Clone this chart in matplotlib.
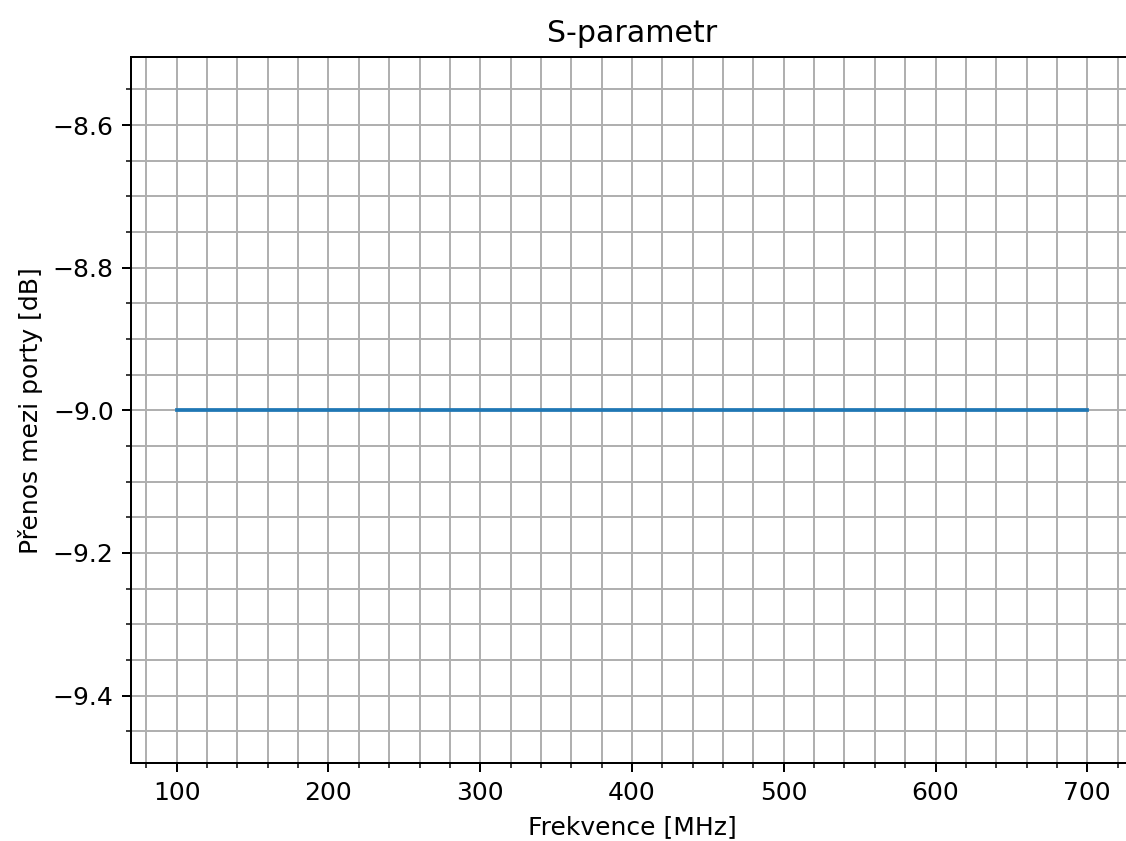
import matplotlib
matplotlib.use("Agg")
import matplotlib.pyplot as plt

# Frequency sweep [MHz] and transmission between ports [dB]
frekvence_mhz = [100, 200, 300, 400, 500, 600, 700]
prenos_db = [-9.0, -9.0, -9.0, -9.0, -9.0, -9.0, -9.0]

DPI = 180
fig = plt.figure(figsize=(1126 / DPI, 841 / DPI), dpi=DPI)
ax = fig.add_axes([131.2 / 1126, (841 - 763.3) / 841, 1001.6 / 1126, (763.3 - 57.3) / 841])

ax.plot(frekvence_mhz, prenos_db)
ax.set_title("S-parametr")
ax.set_xlabel("Frekvence [MHz]")
ax.set_ylabel("Přenos mezi porty [dB]")
ax.minorticks_on()
ax.grid(which="both")

fig.savefig("out.png", dpi=DPI)
